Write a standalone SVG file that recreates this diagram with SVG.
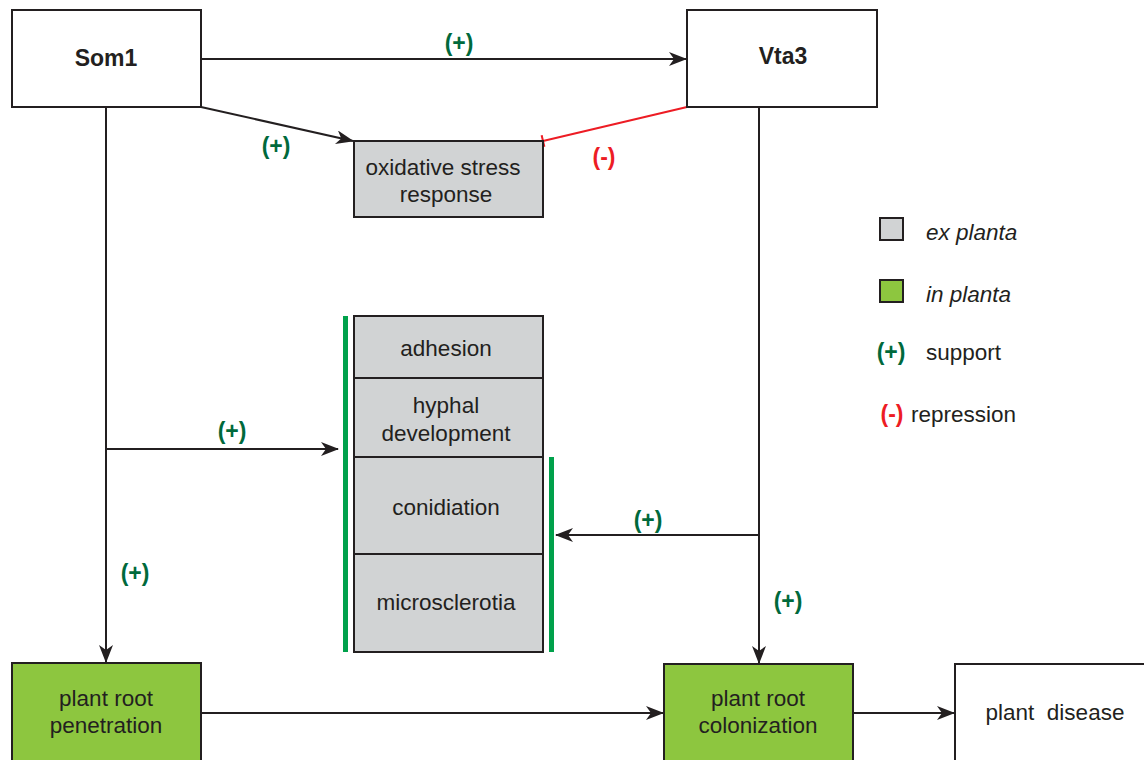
<svg xmlns="http://www.w3.org/2000/svg" width="1144" height="760" viewBox="0 0 1144 760">
  <style>
    .box { stroke: #231f20; stroke-width: 2; }
    .white { fill: #ffffff; }
    .grey { fill: #d1d3d4; }
    .green { fill: #8dc63f; }
    .lbl { font-family: "Liberation Sans", Arial, sans-serif; font-size: 22.5px; fill: #231f20; text-anchor: middle; }
    .bold { font-weight: bold; font-size: 23px; }
    .plus { font-family: "Liberation Sans", Arial, sans-serif; font-size: 23px; font-weight: bold; fill: #00693c; text-anchor: middle; }
    .minus { font-family: "Liberation Sans", Arial, sans-serif; font-size: 23px; font-weight: bold; fill: #ed1c24; text-anchor: middle; }
    .leg { font-family: "Liberation Sans", Arial, sans-serif; font-size: 22.5px; fill: #231f20; }
    .edge { stroke: #231f20; stroke-width: 2; fill: none; }
    .rep { stroke: #ed1c24; stroke-width: 2; fill: none; }
    .bar { fill: #00a14b; }
  </style>
  <defs>
    <marker id="arr" viewBox="0 0 18 14" refX="17" refY="7" markerWidth="18" markerHeight="14" markerUnits="userSpaceOnUse" orient="auto">
      <path d="M0,0 L18,7 L0,14 L5,7 Z" fill="#231f20"/>
    </marker>
    <marker id="tee" viewBox="0 0 4 12" refX="2" refY="6" markerWidth="4" markerHeight="12" markerUnits="userSpaceOnUse" orient="auto">
      <path d="M2,0 L2,12" stroke="#ed1c24" stroke-width="2"/>
    </marker>
  </defs>

  <!-- connectors -->
  <g id="connectors">
    <line class="edge" x1="201" y1="59" x2="686" y2="59" marker-end="url(#arr)"/>
    <line class="edge" x1="201" y1="107" x2="353" y2="141" marker-end="url(#arr)"/>
    <line class="rep" x1="687" y1="107" x2="543" y2="141" marker-end="url(#tee)"/>
    <line class="edge" x1="106" y1="107" x2="106" y2="662" marker-end="url(#arr)"/>
    <line class="edge" x1="106" y1="449" x2="338" y2="449" marker-end="url(#arr)"/>
    <line class="edge" x1="759" y1="107" x2="759" y2="663" marker-end="url(#arr)"/>
    <line class="edge" x1="759" y1="535" x2="556" y2="535" marker-end="url(#arr)"/>
    <line class="edge" x1="201" y1="713" x2="663" y2="713" marker-end="url(#arr)"/>
    <line class="edge" x1="853" y1="713" x2="954" y2="713" marker-end="url(#arr)"/>
    <text class="plus" x="459" y="51">(+)</text>
    <text class="plus" x="276" y="154">(+)</text>
    <text class="minus" x="604" y="165">(-)</text>
    <text class="plus" x="232" y="439">(+)</text>
    <text class="plus" x="135" y="581">(+)</text>
    <text class="plus" x="648" y="528">(+)</text>
    <text class="plus" x="788" y="609">(+)</text>
  </g>

  <!-- regulators -->
  <g id="som1">
    <rect class="box white" x="12" y="10" width="189" height="97"/>
    <text class="lbl bold" x="106" y="66">Som1</text>
  </g>
  <g id="vta3">
    <rect class="box white" x="687" y="10" width="190" height="97"/>
    <text class="lbl bold" x="783" y="64">Vta3</text>
  </g>

  <!-- ex planta processes -->
  <g id="oxidative">
    <rect class="box grey" x="354" y="141" width="189" height="76"/>
    <text class="lbl" x="443" y="175">oxidative stress</text>
    <text class="lbl" x="446" y="202">response</text>
  </g>
  <g id="adhesion">
    <rect class="box grey" x="354" y="316" width="189" height="62"/>
    <text class="lbl" x="446" y="356">adhesion</text>
  </g>
  <g id="hyphal">
    <rect class="box grey" x="354" y="378" width="189" height="79"/>
    <text class="lbl" x="446" y="413">hyphal</text>
    <text class="lbl" x="446" y="441">development</text>
  </g>
  <g id="conidiation">
    <rect class="box grey" x="354" y="457" width="189" height="97"/>
    <text class="lbl" x="446" y="515">conidiation</text>
  </g>
  <g id="microsclerotia">
    <rect class="box grey" x="354" y="554" width="189" height="98"/>
    <text class="lbl" x="446" y="610">microsclerotia</text>
  </g>
  <g id="brackets">
    <rect class="bar" x="343" y="316" width="5" height="336"/>
    <rect class="bar" x="549" y="457" width="5" height="195"/>
  </g>

  <!-- in planta processes -->
  <g id="penetration">
    <rect class="box green" x="12" y="663" width="189" height="110"/>
    <text class="lbl" x="106" y="706">plant root</text>
    <text class="lbl" x="106" y="733">penetration</text>
  </g>
  <g id="colonization">
    <rect class="box green" x="664" y="664" width="189" height="110"/>
    <text class="lbl" x="758" y="706">plant root</text>
    <text class="lbl" x="758" y="733">colonization</text>
  </g>
  <g id="disease">
    <rect class="box white" x="955" y="664" width="200" height="110"/>
    <text class="lbl" x="1055" y="720" xml:space="preserve">plant  disease</text>
  </g>

  <!-- legend -->
  <g id="legend">
    <rect class="box grey" x="880" y="218" width="23" height="22"/>
    <text class="leg" x="926" y="240" font-style="italic">ex planta</text>
    <rect class="box green" x="880" y="280" width="23" height="22"/>
    <text class="leg" x="926" y="302" font-style="italic">in planta</text>
    <text class="plus" x="891" y="360">(+)</text>
    <text class="leg" x="926" y="360">support</text>
    <text class="minus" x="892" y="422">(-)</text>
    <text class="leg" x="911" y="422">repression</text>
  </g>
</svg>
